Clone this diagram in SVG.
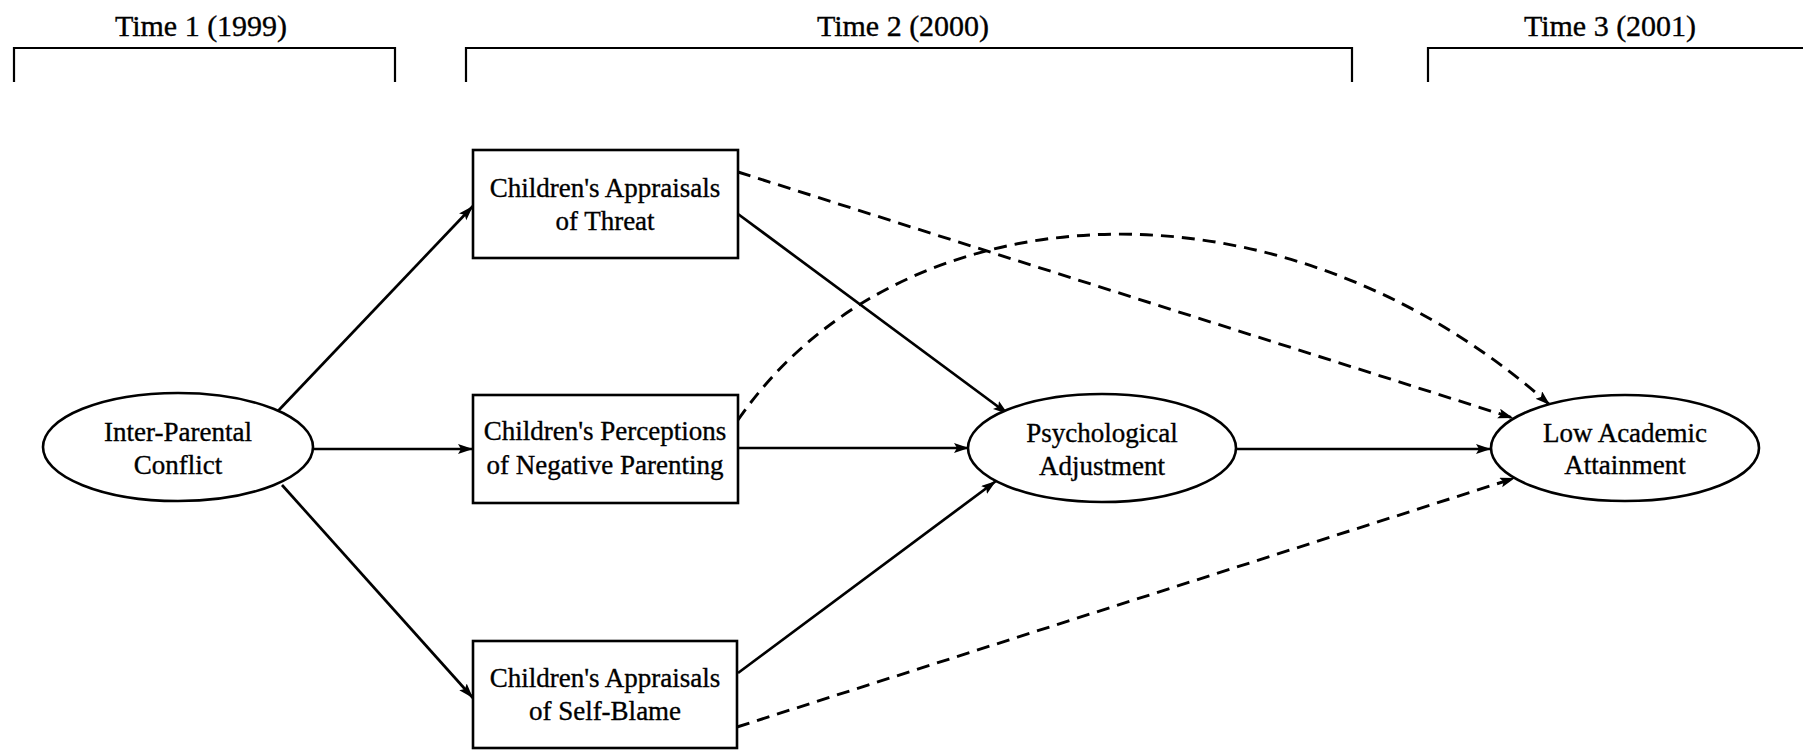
<svg xmlns="http://www.w3.org/2000/svg" width="1803" height="750" viewBox="0 0 1803 750">
<style>
text{font-family:"Liberation Serif","Times New Roman",serif;fill:#000;stroke:#000;stroke-width:0.35;text-anchor:middle}
.t{font-size:30px}
.n{font-size:27px}
.shape{fill:#fff;stroke:#000;stroke-width:2.6}
.br{fill:none;stroke:#000;stroke-width:2.2}
.c{fill:none;stroke:#000;stroke-width:2.7}
.d{fill:none;stroke:#000;stroke-width:2.9;stroke-dasharray:13 8}
</style>
<defs>
<marker id="a" markerUnits="userSpaceOnUse" markerWidth="16" markerHeight="12" refX="15" refY="5" orient="auto">
<path d="M0,0 L15,5 L0,10 L3,5 z" fill="#000"/>
</marker>
</defs>
<rect width="1803" height="750" fill="#fff"/>
<g id="timeline">
<text class="t" x="201" y="36">Time 1 (1999)</text>
<text class="t" x="903" y="36">Time 2 (2000)</text>
<text class="t" x="1610" y="36">Time 3 (2001)</text>
<path class="br" d="M14,82 V48 H395 V82"/>
<path class="br" d="M466,82 V48 H1352 V82"/>
<path class="br" d="M1428,82 V48 H1803"/>
</g>
<g id="connectors">
<path class="c" d="M278,411 L473,206" marker-end="url(#a)"/>
<path class="c" d="M313,449 L473,449" marker-end="url(#a)"/>
<path class="c" d="M282,485 L473,698" marker-end="url(#a)"/>
<path class="c" d="M738,214 L1008,414" marker-end="url(#a)"/>
<path class="c" d="M738,448 L969,448" marker-end="url(#a)"/>
<path class="c" d="M738,673 L996,481" marker-end="url(#a)"/>
<path class="c" d="M1236,449 L1491,449" marker-end="url(#a)"/>
<path class="d" d="M738,172 L1513,418" marker-end="url(#a)"/>
<path class="d" d="M738,420 C900,185 1280,165 1550,405" marker-end="url(#a)"/>
<path class="d" d="M737,727 L1515,478" marker-end="url(#a)"/>
</g>
<g id="interparental">
<ellipse class="shape" cx="178" cy="447" rx="135" ry="54"/>
<text class="n" x="178" y="441">Inter-Parental</text>
<text class="n" x="178" y="474">Conflict</text>
</g>
<g id="threat">
<rect class="shape" x="473" y="150" width="265" height="108"/>
<text class="n" x="605" y="197">Children's Appraisals</text>
<text class="n" x="605" y="230">of Threat</text>
</g>
<g id="parenting">
<rect class="shape" x="473" y="395" width="265" height="108"/>
<text class="n" x="605" y="440">Children's Perceptions</text>
<text class="n" x="605" y="474">of Negative Parenting</text>
</g>
<g id="selfblame">
<rect class="shape" x="473" y="641" width="264" height="107"/>
<text class="n" x="605" y="687">Children's Appraisals</text>
<text class="n" x="605" y="720">of Self-Blame</text>
</g>
<g id="psych">
<ellipse class="shape" cx="1102" cy="448" rx="134" ry="54"/>
<text class="n" x="1102" y="442">Psychological</text>
<text class="n" x="1102" y="475">Adjustment</text>
</g>
<g id="lowacad">
<ellipse class="shape" cx="1625" cy="448" rx="134" ry="53"/>
<text class="n" x="1625" y="442">Low Academic</text>
<text class="n" x="1625" y="474">Attainment</text>
</g>
</svg>
